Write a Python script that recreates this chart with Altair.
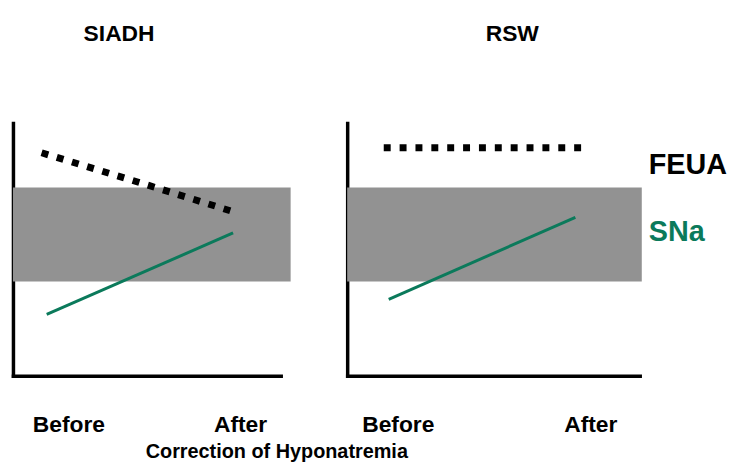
import altair as alt
import pandas as pd

FONT = "Liberation Sans"
GREEN = "#0b7a5b"
BAND = "#929292"

# ---- data (axis units 0..100 on both axes) ----
panel_names = ["SIADH", "RSW"]
tick_labels = ["Before", "After"]

siadh_ticks = [20.7, 84.8]
siadh_feua_x = [10.7, 50.7, 84.1]
siadh_feua_y = [88.2, 75.3, 64.3]
siadh_sna_x = [12.6, 82.2]
siadh_sna_y = [24.3, 56.5]
siadh_band_x = [0, 103.7]

rsw_ticks = [17.3, 83.1]
rsw_feua_x = [12.5, 80.3]
rsw_feua_y = [90.2, 90.2]
rsw_sna_x = [14.2, 78.0]
rsw_sna_y = [30.2, 62.7]
rsw_band_x = [0, 100.7]

band_y = [37.3, 74.5]   # normal range band

series_labels = ["FEUA", "SNa"]
series_label_x = [103.1, 103.1]
series_label_y = [83.5, 56.9]


def panel(name, width, ticks, feua_x, feua_y, sna_x, sna_y, band_x, title_dx, with_labels):
    xs = alt.Scale(domain=[0, 100], nice=False, zero=False)
    ys = alt.Scale(domain=[0, 100], nice=False, zero=False)
    x_axis = alt.Axis(values=ticks,
                      labelExpr="datum.value < 50 ? '%s' : '%s'" % (tick_labels[0], tick_labels[1]),
                      ticks=False, tickSize=0, grid=False,
                      domainColor="black", domainWidth=3.5, domainCap="square",
                      labelFontSize=23, labelFont=FONT, labelFontWeight="bold",
                      labelColor="black", labelPadding=38, title=None)
    y_axis = alt.Axis(labels=False, ticks=False, grid=False,
                      domainColor="black", domainWidth=3.5, domainCap="square", title=None)

    band_df = pd.DataFrame({"x": [band_x[0]], "x2": [band_x[1]],
                            "y": [band_y[0]], "y2": [band_y[1]]})
    band = alt.Chart(band_df).mark_rect(fill=BAND, clip=False).encode(
        x=alt.X("x:Q", scale=xs, axis=x_axis), x2="x2",
        y=alt.Y("y:Q", scale=ys, axis=y_axis), y2="y2")

    feua_df = pd.DataFrame({"x": feua_x, "y": feua_y})
    feua = alt.Chart(feua_df).mark_line(color="black", strokeWidth=7,
                                        strokeDash=[7, 9], strokeCap="butt").encode(
        x=alt.X("x:Q", scale=xs), y=alt.Y("y:Q", scale=ys))

    sna_df = pd.DataFrame({"x": sna_x, "y": sna_y})
    sna = alt.Chart(sna_df).mark_line(color=GREEN, strokeWidth=3).encode(
        x=alt.X("x:Q", scale=xs), y=alt.Y("y:Q", scale=ys))

    layers = [band, feua, sna]
    if with_labels:
        for i, col in enumerate(["black", GREEN]):
            tdf = pd.DataFrame({"x": [series_label_x[i]], "y": [series_label_y[i]],
                                "t": [series_labels[i]]})
            layers.append(alt.Chart(tdf).mark_text(
                align="left", baseline="middle", fontSize=29, font=FONT,
                fontWeight="bold", color=col).encode(
                x=alt.X("x:Q", scale=xs), y=alt.Y("y:Q", scale=ys), text="t:N"))

    return alt.layer(*layers).properties(
        width=width, height=255,
        title=alt.TitleParams(name, fontSize=23, font=FONT, fontWeight="bold",
                              color="black", anchor="middle", dx=title_dx,
                              baseline="alphabetic", offset=60))


left = panel(panel_names[0], 270, siadh_ticks, siadh_feua_x, siadh_feua_y,
             siadh_sna_x, siadh_sna_y, siadh_band_x, -28, False)
right = panel(panel_names[1], 295, rsw_ticks, rsw_feua_x, rsw_feua_y,
              rsw_sna_x, rsw_sna_y, rsw_band_x, 19, True)

chart = alt.hconcat(left, right, spacing=57).properties(
    title=alt.TitleParams("Correction of Hyponatremia", orient="bottom", anchor="middle",
                          dx=-94, fontSize=20, font=FONT, fontWeight="bold",
                          color="black", offset=6),
    padding={"left": 5, "top": 13, "right": 0, "bottom": 0},
).configure_view(stroke=None)

chart.save("out.html", embed_options={"renderer": "svg", "actions": False})
